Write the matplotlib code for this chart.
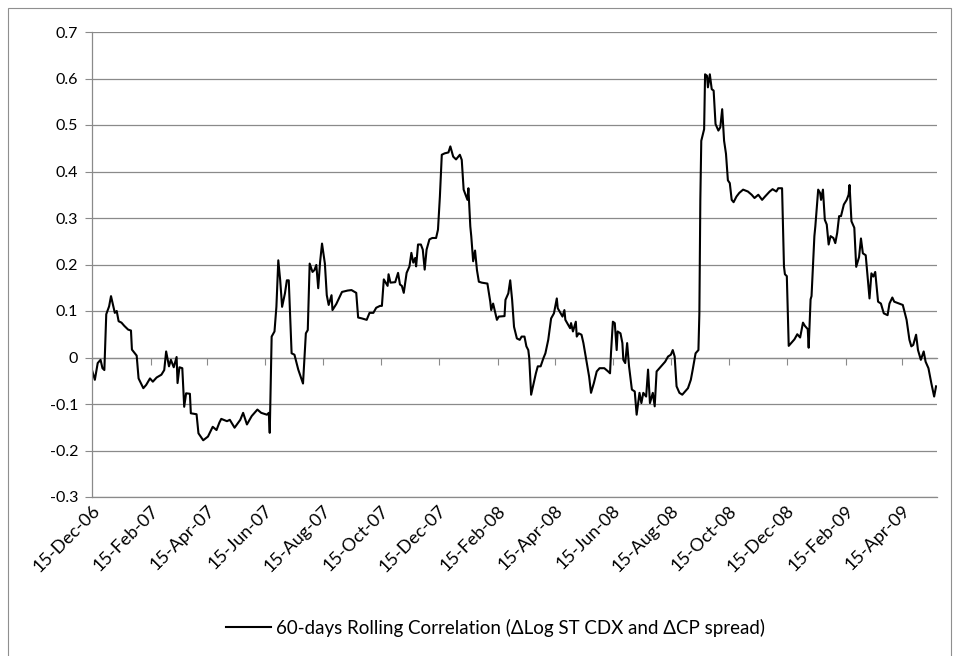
import matplotlib
matplotlib.use('Agg')
import matplotlib.pyplot as plt
import matplotlib.dates as mdates
import matplotlib.transforms as mtransforms
import pandas as pd
from matplotlib.ticker import FuncFormatter, FixedLocator
from matplotlib.patches import Rectangle

# ---------------- data ----------------
start_date = '2006-12-15'
# calendar days after 15-Dec-2006
day_offsets = [
    0, 3, 6, 9, 11, 13, 15, 18, 20, 22, 24, 26, 28, 31, 34, 38, 41, 42, 47, 49,
    54, 57, 61, 64, 68, 73, 76, 78, 81, 83, 86, 89, 90, 92, 95, 97, 99, 103, 104, 110,
    112, 117, 122, 127, 131, 134, 136, 142, 145, 150, 156, 159, 163, 168, 174, 178, 184, 186, 187, 189,
    192, 194, 196, 198, 200, 203, 205, 207, 210, 213, 217, 220, 222, 225, 227, 229, 232, 234, 236, 238,
    240, 242, 245, 247, 249, 252, 253, 257, 263, 269, 273, 278, 280, 284, 289, 292, 296, 299, 303, 305,
    307, 309, 311, 312, 314, 319, 322, 324, 326, 328, 331, 334, 336, 338, 340, 341, 343, 346, 348, 350,
    352, 355, 358, 362, 364, 366, 368, 371, 375, 377, 380, 383, 387, 389, 391, 395, 396, 398, 399, 401,
    403, 405, 407, 410, 416, 419, 420, 422, 426, 428, 434, 435, 438, 440, 442, 444, 447, 450, 452, 455,
    457, 459, 460, 462, 464, 467, 469, 472, 475, 477, 480, 483, 486, 489, 490, 493, 495, 497, 498, 501,
    503, 504, 506, 509, 510, 512, 515, 517, 520, 523, 525, 528, 531, 534, 539, 543, 545, 546, 548, 550,
    552, 553, 556, 558, 559, 561, 563, 565, 568, 571, 573, 576, 578, 580, 583, 585, 587, 590, 592, 594,
    597, 600, 603, 606, 609, 611, 613, 615, 618, 621, 624, 627, 630, 632, 635, 638, 639, 640, 641, 644,
    645, 647, 648, 650, 652, 654, 656, 659, 661, 663, 665, 667, 669, 671, 673, 675, 678, 681, 685, 690,
    694, 697, 701, 705, 708, 713, 716, 720, 722, 726, 728, 729, 731, 733, 736, 739, 742, 745, 748, 750,
    753, 754, 756, 757, 760, 761, 764, 766, 767, 769, 771, 773, 775, 777, 780, 782, 784, 786, 788, 791,
    794, 796, 797, 799, 802, 804, 807, 809, 811, 814, 816, 818, 820, 822, 824, 827, 830, 833, 837, 839,
    842, 844, 849, 853, 857, 860, 862, 864, 867, 869, 872, 875, 877, 880, 883, 886, 888,
]
correlation = [
    -0.027, -0.048, -0.012, -0.005, -0.023, -0.027, 0.093, 0.110, 0.132, 0.114, 0.096, 0.100, 0.078, 0.075, 0.068, 0.060, 0.058, 0.017, 0.004, -0.045,
    -0.066, -0.059, -0.045, -0.052, -0.043, -0.037, -0.027, 0.013, -0.019, -0.005, -0.021, 0.001, -0.055, -0.021, -0.023, -0.106, -0.077, -0.078, -0.120, -0.122,
    -0.163, -0.178, -0.170, -0.149, -0.156, -0.140, -0.132, -0.137, -0.134, -0.151, -0.134, -0.119, -0.144, -0.126, -0.112, -0.119, -0.123, -0.119, -0.162, 0.045,
    0.056, 0.109, 0.209, 0.166, 0.109, 0.138, 0.166, 0.166, 0.009, 0.006, -0.026, -0.044, -0.056, 0.052, 0.059, 0.202, 0.184, 0.188, 0.199, 0.149,
    0.206, 0.245, 0.202, 0.134, 0.113, 0.134, 0.102, 0.115, 0.141, 0.144, 0.145, 0.139, 0.086, 0.084, 0.081, 0.096, 0.096, 0.107, 0.111, 0.111,
    0.168, 0.161, 0.154, 0.179, 0.161, 0.162, 0.182, 0.157, 0.154, 0.139, 0.182, 0.196, 0.225, 0.204, 0.214, 0.196, 0.243, 0.243, 0.232, 0.189,
    0.232, 0.254, 0.257, 0.257, 0.275, 0.346, 0.436, 0.439, 0.441, 0.454, 0.432, 0.426, 0.436, 0.425, 0.361, 0.339, 0.364, 0.282, 0.261, 0.207,
    0.230, 0.188, 0.163, 0.161, 0.159, 0.120, 0.102, 0.116, 0.081, 0.088, 0.089, 0.124, 0.138, 0.166, 0.124, 0.066, 0.041, 0.038, 0.045, 0.045,
    0.024, 0.016, -0.001, -0.080, -0.062, -0.034, -0.019, -0.019, -0.001, 0.009, 0.038, 0.084, 0.095, 0.127, 0.106, 0.095, 0.088, 0.102, 0.081, 0.070,
    0.063, 0.074, 0.056, 0.077, 0.045, 0.052, 0.049, 0.031, -0.005, -0.041, -0.076, -0.055, -0.030, -0.023, -0.023, -0.030, -0.034, 0.009, 0.077, 0.074,
    0.016, 0.056, 0.052, 0.031, -0.005, -0.012, 0.031, -0.019, -0.069, -0.073, -0.123, -0.076, -0.098, -0.076, -0.084, -0.026, -0.098, -0.076, -0.105, -0.030,
    -0.023, -0.016, -0.009, 0.002, 0.006, 0.016, 0.002, -0.062, -0.076, -0.080, -0.073, -0.066, -0.048, -0.026, 0.009, 0.016, 0.095, 0.338, 0.466, 0.491,
    0.609, 0.606, 0.581, 0.609, 0.577, 0.574, 0.502, 0.488, 0.495, 0.534, 0.466, 0.438, 0.381, 0.375, 0.339, 0.334, 0.346, 0.354, 0.361, 0.357,
    0.350, 0.343, 0.350, 0.339, 0.346, 0.357, 0.362, 0.357, 0.364, 0.364, 0.196, 0.179, 0.175, 0.025, 0.032, 0.039, 0.050, 0.043, 0.075, 0.068,
    0.061, 0.021, 0.125, 0.132, 0.261, 0.282, 0.361, 0.354, 0.339, 0.361, 0.296, 0.286, 0.243, 0.261, 0.257, 0.246, 0.268, 0.304, 0.304, 0.329,
    0.339, 0.350, 0.371, 0.293, 0.279, 0.195, 0.216, 0.256, 0.224, 0.220, 0.174, 0.127, 0.181, 0.174, 0.184, 0.120, 0.116, 0.095, 0.091, 0.116,
    0.129, 0.120, 0.116, 0.113, 0.081, 0.038, 0.024, 0.027, 0.049, 0.016, -0.005, 0.013, -0.009, -0.023, -0.055, -0.084, -0.062,
]
series_label = '60-days Rolling Correlation (\u0394Log ST CDX and \u0394CP spread)'
y_ticks = [-0.3, -0.2, -0.1, 0.0, 0.1, 0.2, 0.3, 0.4, 0.5, 0.6, 0.7]
x_tick_months = [2, 4, 6, 8, 10, 12]

# ---------------- figure ----------------
plt.rcParams['font.family'] = ['Lato', 'DejaVu Sans']
GRID = '#8a8a8a'

fig = plt.figure(figsize=(9.64, 6.56), dpi=100)
ax = fig.add_axes([92 / 964, 1 - 497 / 656, (937 - 92) / 964, (497 - 32) / 656])

start = pd.Timestamp(start_date)
dates = start + pd.to_timedelta(day_offsets, unit='D')
line, = ax.plot(dates, correlation, color='black', lw=1.5, label=series_label)

ax.set_ylim(y_ticks[0], y_ticks[-1])
ax.set_xlim(start, start + pd.Timedelta(days=889))
ax.yaxis.set_major_locator(FixedLocator(y_ticks))
ax.yaxis.set_major_formatter(FuncFormatter(lambda v, p: '0' if abs(v) < 1e-9 else f'{v:.1f}'))
ax.yaxis.grid(True, color=GRID, lw=0.9)
ax.set_axisbelow(True)

locator = mdates.MonthLocator(bymonth=x_tick_months, bymonthday=15)
ax.xaxis.set_major_locator(locator)
ax.xaxis.set_major_formatter(mdates.DateFormatter('%d-%b-%y'))
ax.tick_params(axis='x', length=0, labelsize=13, pad=8)
shift = mtransforms.ScaledTranslation(5 / 100, 0, fig.dpi_scale_trans)
for lbl in ax.get_xticklabels():
    lbl.set_rotation(45)
    lbl.set_ha('right')
    lbl.set_va('center')
    lbl.set_rotation_mode('anchor')
    lbl.set_transform(lbl.get_transform() + shift)
ax.tick_params(axis='y', length=5, color=GRID, labelsize=11.5, pad=5)

for s in ['top', 'right']:
    ax.spines[s].set_visible(False)
for s in ['left', 'bottom']:
    ax.spines[s].set_color(GRID)
    ax.spines[s].set_linewidth(0.9)

# horizontal axis crosses at zero: tick marks on the zero line
sec = ax.secondary_xaxis(0.3)
sec.xaxis.set_major_locator(mdates.MonthLocator(bymonth=x_tick_months, bymonthday=15))
sec.tick_params(axis='x', direction='out', length=5, color=GRID, labelbottom=False, labeltop=False)
for s in sec.spines.values():
    s.set_color(GRID)
    s.set_linewidth(0.9)

fig.legend(handles=[line], loc='center', bbox_to_anchor=(0.514, 1 - 628 / 656),
           frameon=False, fontsize=13.5, handlelength=2.4, handletextpad=0.3)

fig.add_artist(Rectangle((8 / 964, -0.02), (951 - 8) / 964, (656 - 8) / 656 + 0.02,
                         transform=fig.transFigure, fill=False, ec='#8f8f8f', lw=0.8))

fig.savefig('out.png', dpi=100)
